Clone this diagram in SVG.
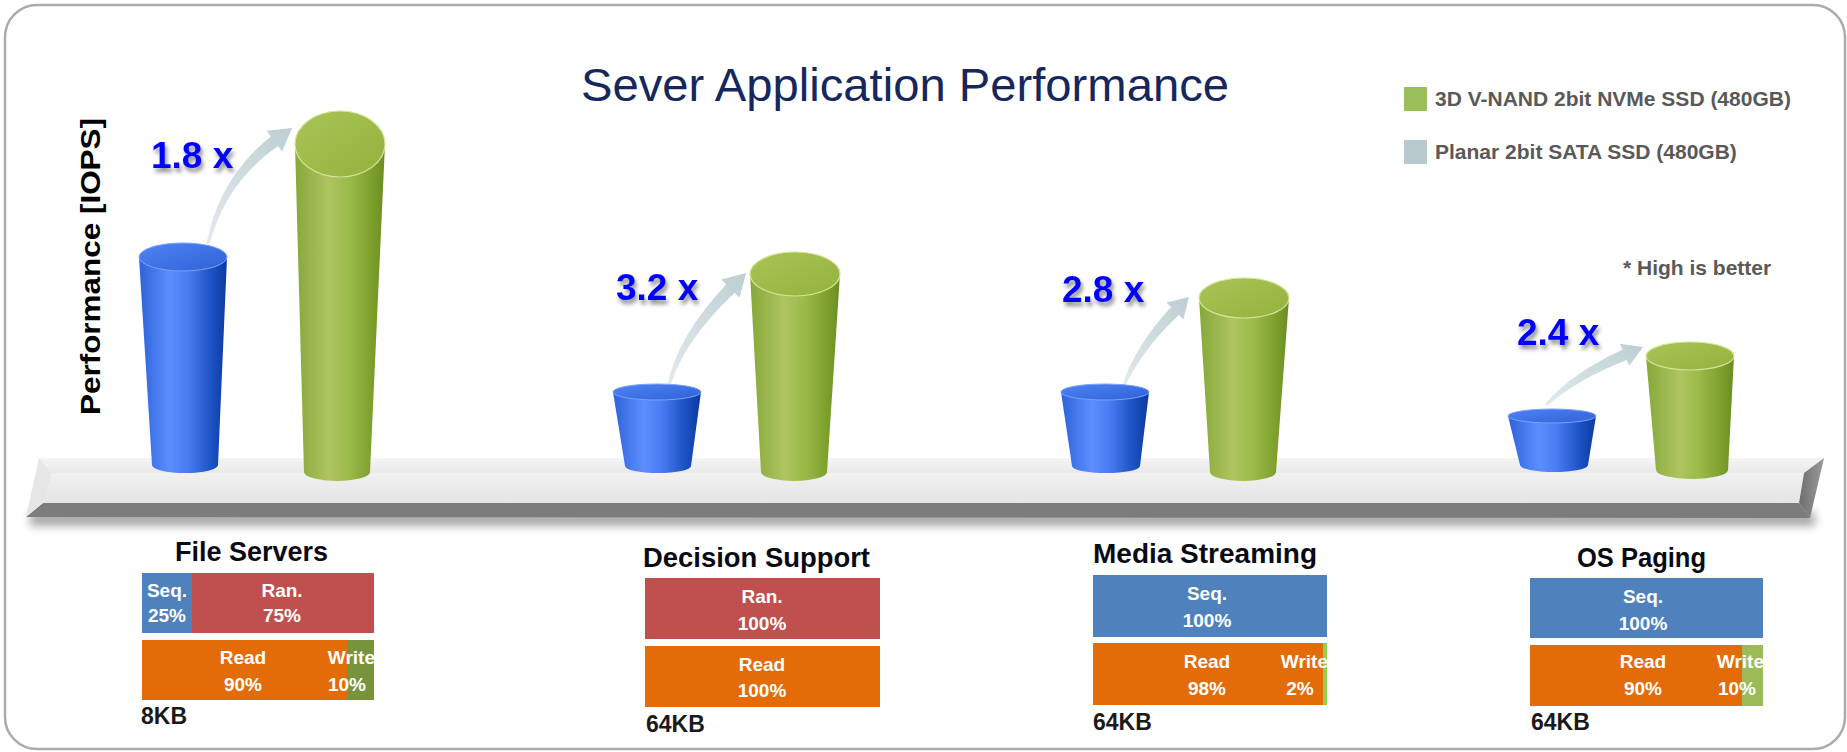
<svg xmlns="http://www.w3.org/2000/svg" width="1847" height="752" viewBox="0 0 1847 752">
<defs>
<style>
.title{font-family:"Liberation Sans",Arial,sans-serif;font-size:47px;fill:#16275e}
.leg{font-family:"Liberation Sans",Arial,sans-serif;font-weight:bold;font-size:21px;fill:#595959}
.mul{font-family:"Liberation Sans",Arial,sans-serif;font-weight:bold;font-size:37px;fill:#0000ff;filter:url(#tsh)}
.axis{font-family:"Liberation Sans",Arial,sans-serif;font-weight:bold;font-size:28px;fill:#000}
.head{font-family:"Liberation Sans",Arial,sans-serif;font-weight:bold;font-size:27px;fill:#0a0a14}
.kb{font-family:"Liberation Sans",Arial,sans-serif;font-weight:bold;font-size:23px;fill:#1a1a1a}
.cell{font-family:"Liberation Sans",Arial,sans-serif;font-weight:bold;font-size:19px;fill:#ffffff;text-anchor:middle}
.cellE{font-family:"Liberation Sans",Arial,sans-serif;font-weight:bold;font-size:19px;fill:#ffffff;text-anchor:end}
.seq{fill:#4f81bd}.ran{fill:#c0504d}.rd{fill:#e36c09}
.bbody{fill:url(#gBlue)}.btop{fill:url(#gBlueTop);stroke:#7aa2ff;stroke-width:1}
.gbody{fill:url(#gGreen)}.gtop{fill:url(#gGreenTop);stroke:#d4e39a;stroke-width:1.2}
.arrow{fill:url(#gArrow)}
</style>
<linearGradient id="gBlue" x1="0" y1="0" x2="1" y2="0">
<stop offset="0" stop-color="#2d62d8"/><stop offset="0.35" stop-color="#5c8eff"/><stop offset="0.55" stop-color="#4a7cf2"/><stop offset="0.82" stop-color="#1c52c4"/><stop offset="1" stop-color="#0a3a9c"/>
</linearGradient>
<linearGradient id="gBlueTop" x1="0" y1="0" x2="1" y2="1">
<stop offset="0" stop-color="#4f82f5"/><stop offset="1" stop-color="#2f62d6"/>
</linearGradient>
<linearGradient id="gGreen" x1="0" y1="0" x2="1" y2="0">
<stop offset="0" stop-color="#86a83a"/><stop offset="0.38" stop-color="#afc460"/><stop offset="0.6" stop-color="#9bba49"/><stop offset="0.86" stop-color="#7c9f2c"/><stop offset="1" stop-color="#6a8d22"/>
</linearGradient>
<linearGradient id="gGreenTop" x1="0" y1="0" x2="1" y2="1">
<stop offset="0" stop-color="#a9c455"/><stop offset="1" stop-color="#94b23e"/>
</linearGradient>
<linearGradient id="gArrow" x1="0" y1="1" x2="1" y2="0">
<stop offset="0" stop-color="#e2eaec"/><stop offset="1" stop-color="#bccfd3"/>
</linearGradient>
<linearGradient id="gTop" x1="0" y1="0" x2="0" y2="1">
<stop offset="0" stop-color="#f4f4f4"/><stop offset="1" stop-color="#e9e9e9"/>
</linearGradient>
<linearGradient id="gFront" x1="0" y1="0" x2="0" y2="1">
<stop offset="0" stop-color="#f1f1f1"/><stop offset="1" stop-color="#e4e4e4"/>
</linearGradient>
<linearGradient id="gRight" x1="0" y1="0" x2="1" y2="0">
<stop offset="0" stop-color="#6f6f6f"/><stop offset="1" stop-color="#9a9a9a"/>
</linearGradient>
<filter id="tsh" x="-20%" y="-30%" width="150%" height="180%">
<feDropShadow dx="2" dy="4" stdDeviation="2" flood-color="#000" flood-opacity="0.45"/>
</filter>
<filter id="blur6" x="-5%" y="-100%" width="110%" height="300%">
<feGaussianBlur stdDeviation="5"/>
</filter>
</defs>

<rect x="0" y="0" width="1847" height="752" fill="#ffffff"/>
<rect id="frame" x="5" y="5" width="1840" height="744" rx="32" ry="32" fill="#ffffff" stroke="#ababab" stroke-width="2.5"/>

<g id="title"><text class="title" x="581" y="101" textLength="648" lengthAdjust="spacingAndGlyphs">Sever Application Performance</text></g>

<g id="legend">
<rect x="1404" y="87" width="23" height="24" fill="#9bbf5a"/>
<text class="leg" x="1435" y="106">3D V-NAND 2bit NVMe SSD (480GB)</text>
<rect x="1404" y="140" width="23" height="24" fill="#b8cacd"/>
<text class="leg" x="1435" y="159">Planar 2bit SATA SSD (480GB)</text>
<text class="leg" x="1623" y="275">* High is better</text>
</g>

<g id="y-axis-label"><text class="axis" transform="translate(100,415) rotate(-90)" textLength="297" lengthAdjust="spacingAndGlyphs">Performance  [IOPS]</text></g>

<g id="shelf">
<rect x="30" y="512" width="1785" height="14" fill="#000" opacity="0.35" filter="url(#blur6)"/>
<polygon points="39,458 1824,458 1804,473 52,473" fill="url(#gTop)"/>
<polygon points="52,473 1804,473 1799,503 43,503" fill="url(#gFront)"/>
<polygon points="43,503 1799,503 1810,518 26,517" fill="#7c7c7c"/>
<polygon points="39,458 52,473 43,503 26,517" fill="#e6e6e6"/>
<polygon points="1824,458 1804,473 1799,503 1810,518" fill="url(#gRight)"/>
</g>

<g id="connectors">
<path class="arrow" d="M206.5,243.7 Q219,178 270.8,136.4 L266.6,130.8 L292,128 L282.2,151.6 L278,146 Q225.8,182.4 209.5,244.3 Z"/>
<path class="arrow" d="M667.5,384.6 Q677.5,336 726.2,284.4 L721.2,279.4 L746,273 L739.6,297.8 L734.6,292.8 Q684.3,340.2 670.5,385.4 Z"/>
<path class="arrow" d="M1122.6,384.4 Q1136.2,344.2 1171,307.2 L1166.4,302.6 L1189,297 L1183.4,319.6 L1178.8,315 Q1142.8,348.8 1125.4,385.6 Z"/>
<path class="arrow" d="M1544.9,404 Q1571.8,372.9 1622.5,349.7 L1619.9,343.8 L1643,347 L1629.3,365.8 L1626.7,359.9 Q1576.2,379.7 1547.1,406 Z"/>
</g>

<g id="file-servers-bars">
<path class="bbody" d="M139,257 L152,465 A33,8 0 0 0 218,465 L227,257 Z"/>
<ellipse class="btop" cx="183" cy="257" rx="44" ry="14"/>
<path class="gbody" d="M295,144 L304,472 A33,9 0 0 0 370,472 L385,144 Z"/>
<ellipse class="gtop" cx="340" cy="144" rx="45" ry="33"/>
<text class="mul" x="151" y="168">1.8 x</text>
</g>

<g id="decision-support-bars">
<path class="bbody" d="M613,392 L625,466 A33,7 0 0 0 691,466 L701,392 Z"/>
<ellipse class="btop" cx="657" cy="392" rx="44" ry="8"/>
<path class="gbody" d="M750,274 L761,472 A33,9 0 0 0 827,472 L840,274 Z"/>
<ellipse class="gtop" cx="795" cy="274" rx="45" ry="22"/>
<text class="mul" x="616" y="300">3.2 x</text>
</g>

<g id="media-streaming-bars">
<path class="bbody" d="M1061,392 L1072,466 A34,7 0 0 0 1140,466 L1149,392 Z"/>
<ellipse class="btop" cx="1105" cy="392" rx="44" ry="8"/>
<path class="gbody" d="M1199,298 L1210,472 A33,9 0 0 0 1276,472 L1289,298 Z"/>
<ellipse class="gtop" cx="1244" cy="298" rx="45" ry="20"/>
<text class="mul" x="1062" y="302">2.8 x</text>
</g>

<g id="os-paging-bars">
<path class="bbody" d="M1508,416 L1520,465 A34,7 0 0 0 1588,465 L1596,416 Z"/>
<ellipse class="btop" cx="1552" cy="416" rx="44" ry="7"/>
<path class="gbody" d="M1646,356 L1656,470 A36,9 0 0 0 1728,470 L1734,356 Z"/>
<ellipse class="gtop" cx="1690" cy="356" rx="44" ry="14"/>
<text class="mul" x="1517" y="345">2.4 x</text>
</g>

<g id="file-servers">
<text class="head" x="175" y="561" textLength="153" lengthAdjust="spacingAndGlyphs">File Servers</text>
<rect class="seq" x="142" y="573" width="50" height="60"/>
<rect class="ran" x="192" y="573" width="182" height="60"/>
<text class="cell" x="167" y="597">Seq.</text><text class="cell" x="167" y="622">25%</text>
<text class="cell" x="282" y="597">Ran.</text><text class="cell" x="282" y="622">75%</text>
<rect class="rd" x="142" y="640" width="205" height="60"/>
<rect x="347" y="640" width="27" height="60" fill="#77933c"/>
<text class="cell" x="243" y="664">Read</text><text class="cell" x="243" y="691">90%</text>
<text class="cellE" x="375" y="664">Write</text><text class="cell" x="347" y="691">10%</text>
<text class="kb" x="141" y="724">8KB</text>
</g>

<g id="decision-support">
<text class="head" x="643" y="567" textLength="227" lengthAdjust="spacingAndGlyphs">Decision Support</text>
<rect class="ran" x="645" y="578" width="235" height="61"/>
<text class="cell" x="762" y="603">Ran.</text><text class="cell" x="762" y="630">100%</text>
<rect class="rd" x="645" y="646" width="235" height="61"/>
<text class="cell" x="762" y="671">Read</text><text class="cell" x="762" y="697">100%</text>
<text class="kb" x="646" y="732">64KB</text>
</g>

<g id="media-streaming">
<text class="head" x="1093" y="563" textLength="224" lengthAdjust="spacingAndGlyphs">Media Streaming</text>
<rect class="seq" x="1093" y="575" width="234" height="62"/>
<text class="cell" x="1207" y="600">Seq.</text><text class="cell" x="1207" y="627">100%</text>
<rect class="rd" x="1093" y="643" width="230" height="62"/>
<rect x="1323" y="643" width="4" height="62" fill="#92d050"/>
<text class="cell" x="1207" y="668">Read</text><text class="cell" x="1207" y="695">98%</text>
<text class="cellE" x="1328" y="668">Write</text><text class="cell" x="1300" y="695">2%</text>
<text class="kb" x="1093" y="730">64KB</text>
</g>

<g id="os-paging">
<text class="head" x="1577" y="567" textLength="129" lengthAdjust="spacingAndGlyphs">OS Paging</text>
<rect class="seq" x="1530" y="578" width="233" height="60"/>
<text class="cell" x="1643" y="603">Seq.</text><text class="cell" x="1643" y="630">100%</text>
<rect class="rd" x="1530" y="645" width="212" height="61"/>
<rect x="1742" y="645" width="21" height="61" fill="#9bbb59"/>
<text class="cell" x="1643" y="668">Read</text><text class="cell" x="1643" y="695">90%</text>
<text class="cellE" x="1764" y="668">Write</text><text class="cell" x="1737" y="695">10%</text>
<text class="kb" x="1531" y="730">64KB</text>
</g>
</svg>
